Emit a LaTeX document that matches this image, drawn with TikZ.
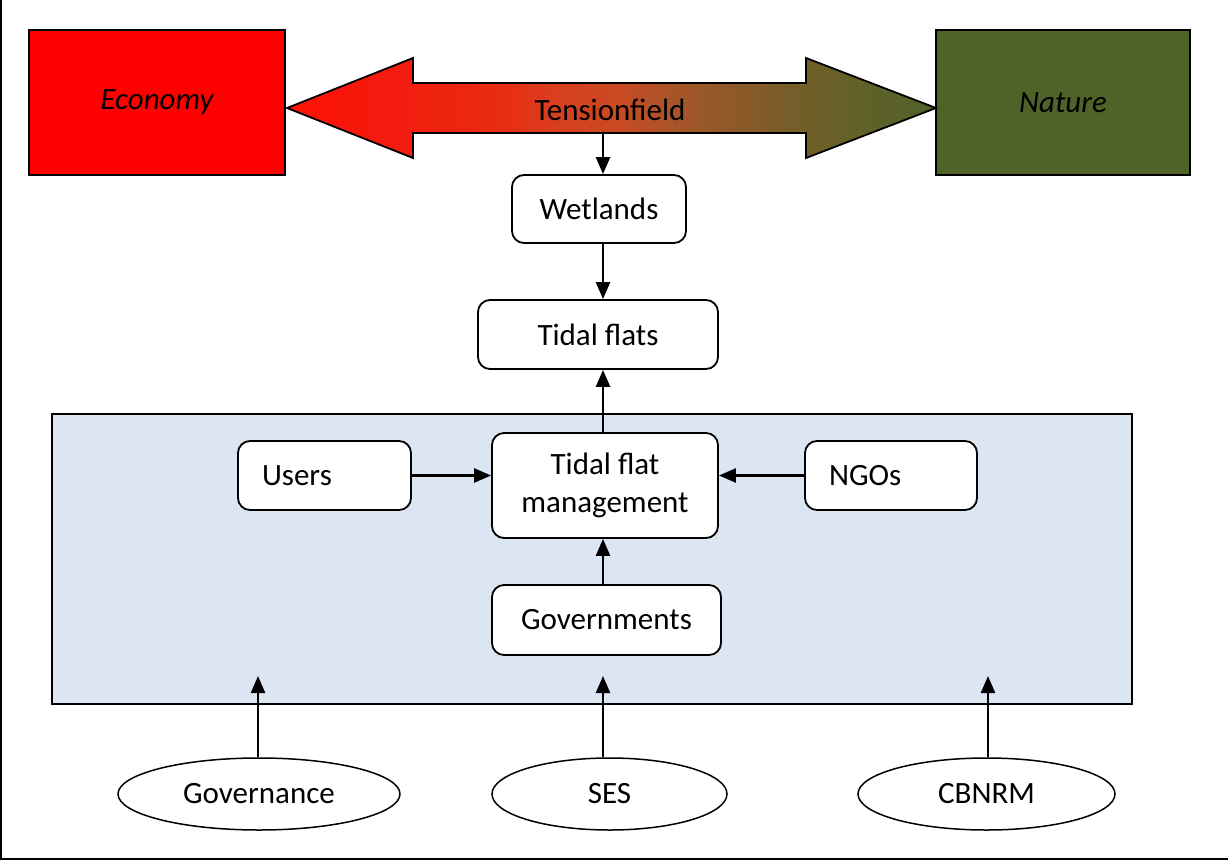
\documentclass[tikz,border=0pt]{standalone}
\usepackage{fontspec}
\setmainfont{Carlito}
\usetikzlibrary{arrows.meta,shapes.geometric}

\definecolor{econred}{HTML}{FF0000}
\definecolor{natgreen}{HTML}{4F6228}
\definecolor{panelblue}{HTML}{DCE6F2}
\definecolor{tA}{HTML}{FF1005}
\definecolor{tB}{HTML}{F51A0E}
\definecolor{tC}{HTML}{E82C12}
\definecolor{tD}{HTML}{D84020}
\definecolor{tE}{HTML}{C84A22}
\definecolor{tF}{HTML}{B0522A}
\definecolor{tG}{HTML}{9A5828}
\definecolor{tH}{HTML}{8A5A28}
\definecolor{tI}{HTML}{7A5C2A}
\definecolor{tJ}{HTML}{706028}
\definecolor{tK}{HTML}{5E6128}

% red-to-olive blend along the tension arrow
\pgfdeclarehorizontalshading{tensionshade}{100bp}{%
  color(0bp)=(tA);
  color(25bp)=(tA);
  color(32.2bp)=(tB);
  color(41.4bp)=(tC);
  color(46bp)=(tD);
  color(50.6bp)=(tE);
  color(53.7bp)=(tF);
  color(56.8bp)=(tG);
  color(59.9bp)=(tH);
  color(63bp)=(tI);
  color(65bp)=(tJ);
  color(69.9bp)=(tK);
  color(75bp)=(natgreen);
  color(100bp)=(natgreen)}

\tikzset{
  every node/.style={font=\fontsize{31bp}{38bp}\selectfont},
  pole/.style={draw=black, line width=2.6bp, rectangle, inner sep=0pt,
    minimum width=#1, minimum height=145bp, font=\fontsize{31bp}{38bp}\selectfont\itshape},
  roundbox/.style={draw=black, line width=1.8bp, fill=white, rectangle,
    rounded corners=12bp, inner sep=0pt},
  framework/.style={draw=black, line width=1.5bp, fill=white, ellipse, inner sep=0pt},
  link/.style={line width=2.4bp, -{Triangle[length=17bp,width=14bp]}},
}

\begin{document}
\begin{tikzpicture}[x=1bp,y=-1bp]
  \useasboundingbox (0,0) rectangle (1228,861);

  % frame edges
  \draw[line width=2.2bp] (1,0) -- (1,859) -- (1228,859);

  % the two poles
  \node[pole=256bp, fill=econred] (econ) at (157,102.5) {Economy};
  \node[pole=254bp, fill=natgreen] (nature) at (1063,102.5) {Nature};

  % double-headed tension arrow
  \path[shading=tensionshade, draw=black, line width=1.8bp, line join=miter]
    (287,108) -- (413,58) -- (413,83) -- (806,83) -- (806,58) -- (936,108)
    -- (806,158) -- (806,133) -- (413,133) -- (413,158) -- cycle;
  \node (tension) at (610,110) {Tensionfield};
  \coordinate (shaftbottom) at (603,133);

  % management panel
  \node[draw=black, line width=1.5bp, fill=panelblue, rectangle, inner sep=0pt,
    minimum width=1080bp, minimum height=290bp] (panel) at (592,559) {};

  % chain of boxes
  \node[roundbox, minimum width=174bp, minimum height=68bp] (wetlands) at (599,209) {Wetlands};
  \node[roundbox, minimum width=240bp, minimum height=69bp] (flats) at (598,334.5) {Tidal flats};
  \node[roundbox, minimum width=226bp, minimum height=105bp, align=center]
    (tfm) at (605,485.5) {Tidal flat\\management};
  \node[roundbox, minimum width=173bp, minimum height=69bp, text width=125bp,
    inner xsep=24bp, align=left] (users) at (324.5,475.5) {Users};
  \node[roundbox, minimum width=172bp, minimum height=69bp, text width=124bp,
    inner xsep=24bp, align=left] (ngos) at (891,475.5) {NGOs};
  \node[roundbox, minimum width=229bp, minimum height=70bp] (gov) at (606.5,620) {Governments};

  % frameworks feeding the panel
  \node[framework, minimum width=282bp, minimum height=72bp] (governance) at (259,794) {Governance};
  \node[framework, minimum width=235bp, minimum height=72bp] (ses) at (609.5,794) {SES};
  \node[framework, minimum width=257bp, minimum height=72bp] (cbnrm) at (986.5,794) {CBNRM};

  \coordinate (inA) at (258,676);
  \coordinate (inB) at (603,676);
  \coordinate (inC) at (988,676);

  % connectors
  \draw[link] (shaftbottom) -- (wetlands.north -| shaftbottom);
  \draw[link] (wetlands.south -| shaftbottom) -- (flats.north -| shaftbottom);
  \draw[link] (tfm.north -| shaftbottom) -- (flats.south -| shaftbottom);
  \draw[link] (users.east) -- (users.east -| tfm.west);
  \draw[link] (ngos.west) -- (ngos.west -| tfm.east);
  \draw[link] (gov.north -| shaftbottom) -- (tfm.south -| shaftbottom);
  \draw[link] (governance.north -| inA) -- (inA);
  \draw[link] (ses.north -| inB) -- (inB);
  \draw[link] (cbnrm.north -| inC) -- (inC);
\end{tikzpicture}
\end{document}
